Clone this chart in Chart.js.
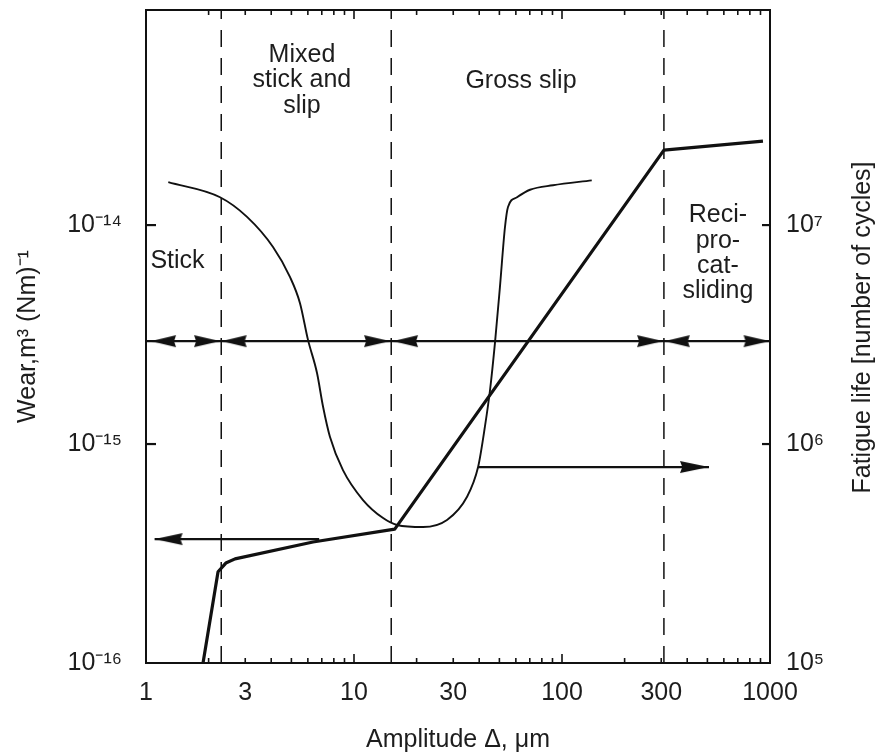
<!DOCTYPE html>
<html>
<head>
<meta charset="utf-8">
<script src="https://cdn.jsdelivr.net/npm/chart.js@4/dist/chart.umd.min.js"></script>
<style>
  html, body { margin: 0; padding: 0; background: #ffffff; }
  #c { display: block; }
</style>
</head>
<body>
<canvas id="c" width="877" height="755"></canvas>
<script>
// ---------------- DATA ----------------
const xTickValues = [1, 3, 10, 30, 100, 300, 1000];
const wearTickValues = [1e-16, 1e-15, 1e-14];
const wearTickLabels = ['10⁻¹⁶', '10⁻¹⁵', '10⁻¹⁴'];
const fatigueTickValues = [1e5, 1e6, 1e7];
const fatigueTickLabels = ['10⁵', '10⁶', '10⁷'];

// Wear rate (left axis) vs amplitude
const wearAmplitude = [1.88, 2.22, 2.42, 2.68, 6.35, 15.7, 309, 925];
const wearRate = [1.0e-16, 2.61e-16, 2.86e-16, 2.99e-16, 3.57e-16, 4.09e-16, 2.2e-14, 2.42e-14];

// Fatigue life (right axis) vs amplitude
const fatigueAmplitude = [1.28, 2.27, 3.06, 4.08, 4.92, 5.50, 6.01, 6.64, 7.10, 7.66, 8.85, 11.05, 13.8, 16.1,
  21.5, 28.0, 34.9, 39.5, 42.6, 45.1, 47.6, 50.3, 53.2, 55.0, 60.8, 70.2, 90.5, 139];
const fatigueLife = [1.57e7, 1.34e7, 1.09e7, 7.94e6, 5.80e6, 4.40e6, 2.99e6, 2.11e6, 1.48e6, 1.08e6, 7.60e5, 5.55e5, 4.59e5, 4.27e5,
  4.18e5, 4.50e5, 5.73e5, 7.85e5, 1.20e6, 1.77e6, 2.89e6, 5.21e6, 9.80e6, 1.21e7, 1.34e7, 1.45e7, 1.52e7, 1.60e7];

// Regime boundaries (amplitude) and the regime double arrows
const regimeBoundaries = [2.3, 15.1, 309];
const regimeArrowLevel = 2.95e-15;
const regimeArrowSpan = [1, 1000];
const regimeArrowLeftTips = [1.057, 2.31, 15.4, 312];
const regimeArrowRightTips = [2.27, 14.9, 306, 995];

// Pointer arrows: wear curve -> left axis, fatigue curve -> right axis
const wearArrowAmplitude = [6.8, 1.10];
const wearArrowLevel = 3.68e-16;
const fatigueArrowAmplitude = [39.5, 509];
const fatigueArrowLevel = 7.85e5;

// Region labels
const regionLabels = [['Mixed', 'stick and', 'slip'], ['Gross slip'], ['Stick'], ['Reci-', 'pro-', 'cat-', 'sliding']];
const rightAxisTitle = 'Fatigue life [number of cycles]';

// ---------------- STYLE ----------------
const FONT = '"Liberation Sans", Arial, Helvetica, sans-serif';
const INK = '#111111';
const TEXT = '#1d1d1d';
const FS = 25;

function arrowHead(dir, len, halfW) {
  // tip is placed at the canvas centre so the data point marks the tip
  const c = document.createElement('canvas');
  c.width = 2 * len + 4;
  c.height = 2 * halfW + 4;
  const g = c.getContext('2d');
  const cx = c.width / 2, cy = c.height / 2;
  g.fillStyle = INK;
  g.beginPath();
  g.moveTo(cx, cy);
  g.lineTo(cx - dir * len, cy - halfW);
  g.lineTo(cx - dir * len * 0.92, cy);
  g.lineTo(cx - dir * len, cy + halfW);
  g.closePath();
  g.fill();
  return c;
}
const headLeft = arrowHead(-1, 25, 6);
const headRight = arrowHead(1, 26, 6);
const headLeftLong = arrowHead(-1, 28, 6);
const headRightLong = arrowHead(1, 29, 6);

const pts = (xs, ys) => xs.map((x, i) => ({ x: x, y: Array.isArray(ys) ? ys[i] : ys }));

const Y_MIN = 1e-16, Y_MAX = 9.6e-14;
const Y2_MIN = 1e5, Y2_MAX = 9.6e7;

const datasets = [
  {
    label: 'Wear', yAxisID: 'y', data: pts(wearAmplitude, wearRate),
    borderColor: INK, borderWidth: 3.2, pointRadius: 0, tension: 0, borderJoinStyle: 'round'
  },
  {
    label: 'Fatigue life', yAxisID: 'y2', data: pts(fatigueAmplitude, fatigueLife),
    borderColor: INK, borderWidth: 1.9, pointRadius: 0, cubicInterpolationMode: 'monotone'
  },
  ...regimeBoundaries.map((b, i) => ({
    label: 'boundary' + i, yAxisID: 'y', data: [{ x: b, y: Y_MIN }, { x: b, y: Y_MAX }],
    borderColor: INK, borderWidth: 1.5, borderDash: [17, 11], pointRadius: 0, tension: 0
  })),
  {
    label: 'regime line', yAxisID: 'y', data: pts(regimeArrowSpan, regimeArrowLevel),
    borderColor: INK, borderWidth: 2.2, pointRadius: 0, tension: 0
  },
  {
    label: 'regime heads left', yAxisID: 'y', data: pts(regimeArrowLeftTips, regimeArrowLevel),
    showLine: false, pointStyle: headLeft, pointRadius: 5, borderWidth: 0
  },
  {
    label: 'regime heads right', yAxisID: 'y', data: pts(regimeArrowRightTips, regimeArrowLevel),
    showLine: false, pointStyle: headRight, pointRadius: 5, borderWidth: 0
  },
  {
    label: 'wear arrow', yAxisID: 'y', data: pts(wearArrowAmplitude, wearArrowLevel),
    borderColor: INK, borderWidth: 2.2, tension: 0, pointStyle: headLeftLong, pointRadius: [0, 5]
  },
  {
    label: 'fatigue arrow', yAxisID: 'y2', data: pts(fatigueArrowAmplitude, fatigueArrowLevel),
    borderColor: INK, borderWidth: 2.2, tension: 0, pointStyle: headRightLong, pointRadius: [0, 5]
  }
];

const decorPlugin = {
  id: 'decor',
  afterDatasetsDraw(chart, args, opts) {
    const { ctx, chartArea: a, scales } = chart;
    const line = (x1, y1, x2, y2) => { ctx.beginPath(); ctx.moveTo(x1, y1); ctx.lineTo(x2, y2); ctx.stroke(); };
    ctx.save();
    ctx.strokeStyle = INK;
    ctx.lineWidth = 2;
    line(a.left - 1, a.top, a.right + 1, a.top);
    // inward minor / major ticks on x (bottom and top)
    ctx.lineWidth = 1.6;
    const xs = scales.x;
    for (let dec = 1; dec < xs.max; dec *= 10) {
      for (let k = 2; k <= 10; k++) {
        const v = k * dec;
        if (v >= xs.max) continue;
        const px = xs.getPixelForValue(v);
        const len = k === 10 ? 9 : 5;
        line(px, a.bottom, px, a.bottom - len);
        line(px, a.top, px, a.top + len);
      }
    }
    ctx.lineWidth = 2.2;
    wearTickValues.forEach(v => {
      if (v <= scales.y.min) return;
      const py = scales.y.getPixelForValue(v);
      line(a.left, py, a.left + 10, py);
    });
    fatigueTickValues.forEach(v => {
      if (v <= scales.y2.min) return;
      const py = scales.y2.getPixelForValue(v);
      line(a.right, py, a.right - 8, py);
    });
    // region labels
    ctx.fillStyle = TEXT;
    ctx.font = FS + 'px ' + FONT;
    ctx.textBaseline = 'alphabetic';
    opts.labels.forEach((lab, i) => {
      const x = scales.x.getPixelForValue(lab.x);
      const y = scales.y.getPixelForValue(lab.y);
      ctx.textAlign = lab.align || 'center';
      regionLabels[i].forEach((t, j) => ctx.fillText(t, x, y + j * opts.lineHeight));
    });
    // right axis title (reads bottom to top)
    ctx.save();
    ctx.translate(chart.width - opts.rightTitleInset, (a.top + a.bottom) / 2 - opts.rightTitleShift);
    ctx.rotate(-Math.PI / 2);
    ctx.textAlign = 'center';
    ctx.fillText(rightAxisTitle, 0, 0);
    ctx.restore();
    ctx.restore();
  }
};

const noPad = s => { s.paddingTop = 0; s.paddingBottom = 0; };

Chart.defaults.font.family = FONT;
new Chart(document.getElementById('c'), {
  type: 'line',
  data: { datasets: datasets },
  options: {
    responsive: false,
    animation: false,
    devicePixelRatio: 1,
    layout: { padding: { top: 10, left: 0, right: 0, bottom: 0 } },
    plugins: {
      legend: { display: false },
      tooltip: { enabled: false },
      decor: {
        lineHeight: 25.3,
        rightTitleInset: 7,
        rightTitleShift: 9,
        labels: [
          { x: 5.62, y: 5.55e-14 },
          { x: 63.5, y: 4.23e-14 },
          { x: 1.05, y: 6.37e-15, align: 'left' },
          { x: 562, y: 1.03e-14 }
        ]
      }
    },
    scales: {
      x: {
        type: 'logarithmic', position: 'bottom', min: 1, max: 1000,
        afterBuildTicks: s => { s.ticks = xTickValues.map(v => ({ value: v })); },
        afterFit: s => { s.height = 92; },
        grid: { display: false },
        border: { display: true, color: INK, width: 2 },
        ticks: {
          autoSkip: false, maxRotation: 0, minRotation: 0, padding: 7, color: TEXT,
          font: { family: FONT, size: FS },
          callback: v => String(v)
        },
        title: {
          display: true, text: 'Amplitude Δ, μm', color: TEXT,
          font: { family: FONT, size: FS }, padding: { top: 3, bottom: 0 }
        }
      },
      y: {
        type: 'logarithmic', position: 'left', min: Y_MIN, max: Y_MAX,
        afterBuildTicks: s => { s.ticks = wearTickValues.map(v => ({ value: v })); },
        afterFit: s => { s.width = 146; noPad(s); },
        grid: { display: false },
        border: { display: true, color: INK, width: 2 },
        ticks: {
          autoSkip: false, padding: 16, color: TEXT, font: { family: FONT, size: FS },
          callback: (v, i) => wearTickLabels[i]
        },
        title: {
          display: true, text: 'Wear,m³ (Nm)⁻¹', color: TEXT,
          font: { family: FONT, size: FS }, padding: { top: 13, bottom: 0 }
        }
      },
      y2: {
        type: 'logarithmic', position: 'right', min: Y2_MIN, max: Y2_MAX,
        afterBuildTicks: s => { s.ticks = fatigueTickValues.map(v => ({ value: v })); },
        afterFit: s => { s.width = 107; noPad(s); },
        grid: { display: false },
        border: { display: true, color: INK, width: 2 },
        ticks: {
          autoSkip: false, padding: 8, color: TEXT, font: { family: FONT, size: FS },
          callback: (v, i) => fatigueTickLabels[i]
        }
      }
    }
  },
  plugins: [decorPlugin]
});
</script>
</body>
</html>
